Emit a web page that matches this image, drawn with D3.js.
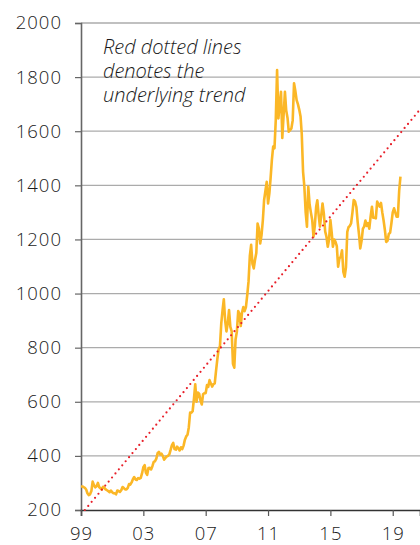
<!DOCTYPE html>
<html>
  <head>
    <meta charset="UTF-8">
    <title>Gold price with trend</title>
    <script src="https://d3js.org/d3.v7.min.js"></script>
    <style>
      body { margin: 0; background: #fff; }
      svg text { font-family: "Open Sans", "Noto Sans", sans-serif; font-weight: 300; fill: #1a1a1a; }
    </style>
  </head>
  <body>
    <svg id="chart" width="420" height="545"></svg>
    <script>
      // Monthly gold price (USD/oz), Jan 1999 to Jul 2019
      const startYear = 1999;
      const goldPrice = [
        287, 287, 285, 282, 276, 262, 255, 258, 270, 305, 292, 284,   // 1999
        288, 300, 285, 280, 276, 286, 282, 276, 273, 270, 266, 272,   // 2000
        266, 262, 262, 258, 272, 270, 267, 273, 285, 281, 276, 276,   // 2001
        282, 296, 294, 302, 314, 322, 313, 311, 318, 316, 319, 335,   // 2002
        358, 366, 338, 330, 355, 356, 350, 362, 378, 380, 390, 410,   // 2003
        415, 405, 408, 400, 386, 392, 398, 400, 406, 422, 440, 448,   // 2004
        425, 423, 434, 428, 420, 432, 425, 438, 460, 472, 478, 505,   // 2005
        560, 560, 565, 612, 665, 600, 634, 630, 605, 590, 628, 632,   // 2006
        632, 662, 655, 680, 668, 656, 665, 668, 715, 758, 795, 805,   // 2007
        890, 940, 979, 900, 860, 890, 939, 877, 860, 740, 726, 830,   // 2008
        860, 935, 925, 880, 930, 950, 935, 950, 995, 1045, 1140, 1180, // 2009
        1110, 1093, 1124, 1150, 1259, 1240, 1185, 1215, 1270, 1346, 1380, 1413, // 2010
        1333, 1370, 1425, 1494, 1543, 1537, 1641, 1826, 1647, 1700, 1746, 1575, // 2011
        1660, 1746, 1678, 1650, 1598, 1604, 1610, 1640, 1777, 1750, 1715, 1700, // 2012
        1680, 1654, 1590, 1450, 1395, 1300, 1247, 1395, 1330, 1300, 1272, 1210, // 2013
        1250, 1320, 1345, 1290, 1247, 1290, 1333, 1295, 1230, 1210, 1173, 1200, // 2014
        1272, 1225, 1173, 1200, 1191, 1175, 1099, 1130, 1136, 1160, 1080, 1062, // 2015
        1097, 1228, 1245, 1250, 1260, 1300, 1346, 1340, 1320, 1265, 1220, 1167, // 2016
        1195, 1240, 1247, 1270, 1250, 1260, 1240, 1285, 1321, 1280, 1280, 1278, // 2017
        1340, 1330, 1321, 1335, 1300, 1270, 1235, 1191, 1195, 1220, 1225, 1260, // 2018
        1300, 1315, 1300, 1284, 1284, 1380, 1432                                // 2019
      ];

      // underlying trend, start and end
      const trendDates = [new Date(1999, 3, 1), new Date(2020, 9, 1)];
      const trendValues = [200, 1680];

      const yTicks = [200, 400, 600, 800, 1000, 1200, 1400, 1600, 1800, 2000];
      const xTickYears = [1999, 2003, 2007, 2011, 2015, 2019];
      const noteLines = ["Red dotted lines", "denotes the", "underlying trend"];

      const svg = d3.select("#chart");
      const m = { left: 81, right: 420, top: 23, bottom: 510 };

      const x = d3.scaleTime()
        .domain([new Date(1999, 0, 1), new Date(2020, 9, 1)])
        .range([m.left, m.right]);
      const y = d3.scaleLinear()
        .domain([200, 2000])
        .range([m.bottom, m.top]);

      // horizontal grid
      svg.append("g")
        .selectAll("line")
        .data(yTicks.filter(d => d > 200))
        .join("line")
        .attr("x1", m.left).attr("x2", m.right)
        .attr("y1", d => y(d)).attr("y2", d => y(d))
        .attr("stroke", "#ababab")
        .attr("stroke-width", 1.3);

      // y axis
      const yAxis = svg.append("g")
        .attr("transform", `translate(${m.left},0)`)
        .call(d3.axisLeft(y).tickValues(yTicks).tickSize(6).tickPadding(13).tickFormat(d3.format("d")));
      yAxis.select(".domain").attr("stroke", "#666").attr("stroke-width", 1.6);
      yAxis.selectAll(".tick line").attr("stroke", "#666").attr("stroke-width", 1.2);
      yAxis.selectAll("text")
        .attr("font-size", 18.5)
        .attr("letter-spacing", "1px")
        .attr("fill", "#1a1a1a");

      // x axis
      const xAxis = svg.append("g")
        .attr("transform", `translate(0,${m.bottom})`)
        .call(d3.axisBottom(x)
          .tickValues(xTickYears.map(yr => new Date(yr, 0, 1)))
          .tickSize(6).tickPadding(11)
          .tickFormat(d3.timeFormat("%y")));
      xAxis.select(".domain").attr("stroke", "#333").attr("stroke-width", 1.6);
      xAxis.selectAll(".tick line").attr("stroke", "#555").attr("stroke-width", 1.2);
      xAxis.selectAll("text")
        .attr("font-size", 18.5)
        .attr("letter-spacing", "1px")
        .attr("fill", "#1a1a1a");

      // gold line
      const series = goldPrice.map((v, i) => ({ date: new Date(startYear, i, 1), value: v }));
      svg.append("path")
        .datum(series)
        .attr("fill", "none")
        .attr("stroke", "#fbb726")
        .attr("stroke-width", 2.6)
        .attr("stroke-linejoin", "round")
        .attr("d", d3.line().x(d => x(d.date)).y(d => y(d.value)));

      // red dotted trend
      const trend = trendDates.map((dt, i) => ({ date: dt, value: trendValues[i] }));
      svg.append("path")
        .datum(trend)
        .attr("fill", "none")
        .attr("stroke", "#e8202a")
        .attr("stroke-width", 2.2)
        .attr("stroke-linecap", "round")
        .attr("stroke-dasharray", "0 5.3")
        .attr("d", d3.line().x(d => x(d.date)).y(d => y(d.value)));

      // note
      svg.append("text")
        .attr("x", 103)
        .attr("y", 54)
        .attr("font-size", 20)
        .attr("font-style", "italic")
        .selectAll("tspan")
        .data(noteLines)
        .join("tspan")
        .attr("x", 103)
        .attr("dy", (d, i) => i === 0 ? 0 : 24)
        .text(d => d);
    </script>
  </body>
</html>
